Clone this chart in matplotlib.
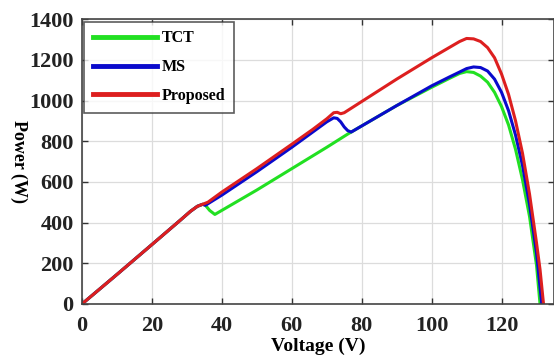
import matplotlib.pyplot as plt
import numpy as np

plt.rcParams['font.family'] = ['Liberation Serif', 'DejaVu Serif']
plt.rcParams['font.weight'] = 'bold'

# shared low-voltage part of all three curves
v_common = [0, 10, 20, 28, 31, 33, 34.5]
p_common = [0, 145, 292, 410, 455, 480, 490]

v_tct = v_common + [35.3, 36.5, 38, 40, 50, 60, 70, 76, 77, 80, 90, 100, 105, 108,
                    110, 112, 114, 116, 118, 120, 122, 124, 126, 128, 130, 131]
p_tct = p_common + [485, 460, 440, 460, 560, 665, 770, 835, 845, 875, 975, 1065, 1108, 1133,
                    1142, 1138, 1120, 1090, 1040, 970, 880, 760, 610, 430, 190, 0]

v_ms = v_common + [35.3, 40, 50, 60, 66, 70, 72, 73, 74, 75, 76, 77, 80, 90, 100, 105,
                   108, 110, 112, 114, 116, 118, 120, 122, 124, 126, 128, 130, 131.5]
p_ms = p_common + [485, 535, 650, 770, 845, 895, 915, 912, 895, 870, 852, 845, 875, 975, 1072, 1115,
                   1140, 1157, 1165, 1162, 1145, 1105, 1040, 950, 830, 680, 490, 250, 0]

v_prop = v_common + [36, 40, 50, 60, 66, 70, 72, 73, 74, 75, 80, 90, 100, 105, 108,
                     110, 112, 114, 116, 118, 120, 122, 124, 126, 128, 130, 131, 132]
p_prop = p_common + [500, 550, 665, 785, 858, 910, 940, 942, 935, 940, 995, 1105, 1210, 1260, 1290,
                     1305, 1303, 1290, 1260, 1210, 1130, 1030, 900, 740, 540, 300, 170, 0]

fig = plt.figure(figsize=(5.54, 3.61), dpi=100)
ax = fig.add_axes([0.148, 0.158, 0.852, 0.789])

ax.plot(v_tct, p_tct, color='#22e022', lw=2.2, label='TCT')
ax.plot(v_ms, p_ms, color='#0a0acc', lw=2.2, label='MS')
ax.plot(v_prop, p_prop, color='#dd1f1f', lw=2.2, label='Proposed')

ax.set_xlim(0, 135)
ax.set_ylim(0, 1400)
ax.set_xticks(np.arange(0, 121, 20))
ax.set_yticks(np.arange(0, 1401, 200))
ax.grid(True, color='#dcdcdc', lw=0.9)
ax.set_axisbelow(True)
ax.tick_params(direction='in', top=True, right=True, length=4, width=1,
               labelsize=16, colors='#333333', pad=6)
ax.tick_params(axis='x', pad=9)
for lab in ax.get_xticklabels() + ax.get_yticklabels():
    lab.set_fontweight('bold')
    lab.set_color('#222222')
for s in ax.spines.values():
    s.set_color('#444444')
    s.set_linewidth(1.2)

ax.set_xlabel('Voltage (V)', fontsize=14, fontweight='bold', labelpad=1)
ax.set_ylabel('Power (W)', fontsize=13, fontweight='bold', rotation=270,
              labelpad=2, va='bottom')
ax.yaxis.set_label_coords(-0.152, 0.5)

leg = ax.legend(loc='upper left', fontsize=11.5, frameon=True, fancybox=False,
                edgecolor='#333333', handlelength=4.0, handletextpad=0.3,
                borderpad=0.55, labelspacing=0.8, borderaxespad=0.15)
leg.get_frame().set_linewidth(1.2)
for t in leg.get_texts():
    t.set_fontweight('bold')
for h in leg.get_lines():
    h.set_linewidth(3.5)

fig.savefig('out.png', dpi=100)
